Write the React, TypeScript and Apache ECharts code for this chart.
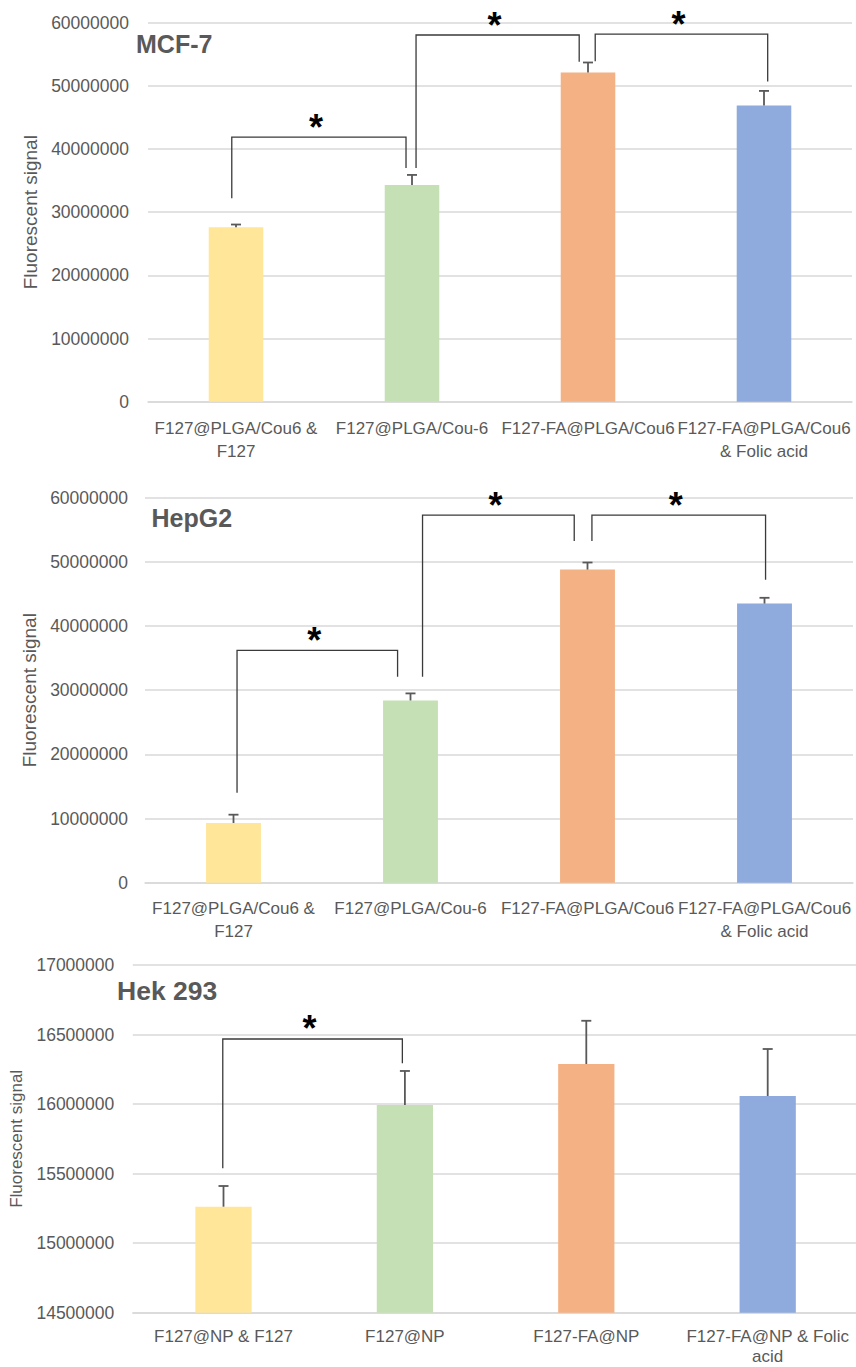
import React, { useEffect, useRef } from "react";
import * as echarts from "echarts";

const FONT = "'Liberation Sans', Arial, sans-serif";
const TEXT = "#595959";
const GRID_LINE = "#d9d9d9";
const ERR_COLOR = "#595959";
const BRACKET_COLOR = "#3a3a3a";
const BAR_COLORS = ["#FFE699", "#C5E0B4", "#F4B183", "#8FAADC"];

// ---------- MCF-7 ----------
const mcfTitle = "MCF-7";
const mcfCategories = [
  "F127@PLGA/Cou6 &\nF127",
  "F127@PLGA/Cou-6",
  "F127-FA@PLGA/Cou6",
  "F127-FA@PLGA/Cou6\n& Folic acid",
];
const mcfValues = [27600000, 34300000, 52100000, 46900000];
const mcfErrors = [450000, 1600000, 1600000, 2300000];
// [leftCat, leftShift(cat units), rightCat, rightShift, topValue, leftBottomValue, rightBottomValue]
const mcfBrackets = [
  [0, -0.024, 1, -0.034, 41900000, 32200000, 37000000],
  [1, 0.023, 2, -0.05, 58050000, 37000000, 53800000],
  [2, 0.041, 3, 0.021, 58200000, 53900000, 50700000],
];
const mcfTicks = { min: 0, max: 60000000, interval: 10000000 };

// ---------- HepG2 ----------
const hepTitle = "HepG2";
const hepCategories = mcfCategories;
const hepValues = [9300000, 28400000, 48800000, 43500000];
const hepErrors = [1300000, 1100000, 1100000, 900000];
const hepBrackets = [
  [0, 0.02, 1, -0.073, 36200000, 14000000, 32100000],
  [1, 0.068, 2, -0.075, 57300000, 32100000, 53250000],
  [2, 0.025, 3, 0.006, 57300000, 53250000, 47200000],
];
const hepTicks = { min: 0, max: 60000000, interval: 10000000 };

// ---------- Hek 293 ----------
const hekTitle = "Hek 293";
const hekCategories = [
  "F127@NP & F127",
  "F127@NP",
  "F127-FA@NP",
  "F127-FA@NP & Folic\nacid",
];
const hekValues = [15262000, 15993000, 16288000, 16058000];
const hekErrors = [149000, 245000, 311000, 338000];
const hekBrackets = [[0, -0.004, 1, -0.014, 16468000, 15538000, 16293000]];
const hekTicks = { min: 14500000, max: 17000000, interval: 500000 };

const yName = "Fluorescent signal";

const panels = [
  {
    title: mcfTitle, categories: mcfCategories, values: mcfValues, errors: mcfErrors,
    brackets: mcfBrackets, ticks: mcfTicks,
    grid: { left: 148, top: 22.7, width: 704, height: 379 },
    titlePos: { left: 136, top: 31, size: 25 },
    labelMargin: 15, lineHeight: 23, yLabelMargin: 19, nameGap: 103, nameSize: 19,
  },
  {
    title: hepTitle, categories: hepCategories, values: hepValues, errors: hepErrors,
    brackets: hepBrackets, ticks: hepTicks,
    grid: { left: 145, top: 497.7, width: 708, height: 385 },
    titlePos: { left: 151.5, top: 505.5, size: 25 },
    labelMargin: 14, lineHeight: 23.5, yLabelMargin: 17, nameGap: 105, nameSize: 19,
  },
  {
    title: hekTitle, categories: hekCategories, values: hekValues, errors: hekErrors,
    brackets: hekBrackets, ticks: hekTicks,
    grid: { left: 132.8, top: 965, width: 725.6, height: 347.7 },
    titlePos: { left: 117, top: 977.5, size: 26.5 },
    labelMargin: 14, lineHeight: 20, yLabelMargin: 18.5, nameGap: 108, nameSize: 17,
  },
];

function errorRender(params: any, api: any) {
  const x = api.value(0);
  const base = api.coord([x, api.value(1)]);
  const top = api.coord([x, api.value(2)]);
  const cap = 5;
  const style = { stroke: ERR_COLOR, lineWidth: 1.8 };
  return {
    type: "group",
    children: [
      { type: "line", shape: { x1: base[0], y1: base[1], x2: top[0], y2: top[1] }, style },
      { type: "line", shape: { x1: top[0] - cap, y1: top[1], x2: top[0] + cap, y2: top[1] }, style },
    ],
  };
}

function bracketRender(brackets: number[][]) {
  return (params: any, api: any) => {
    const b = brackets[params.dataIndex];
    const bw = api.size([1, 0])[0];
    const pTop = api.coord([b[0], b[4]]);
    const xl = pTop[0] + b[1] * bw;
    const xr = api.coord([b[2], b[4]])[0] + b[3] * bw;
    const yt = pTop[1];
    const yl = api.coord([b[0], b[5]])[1];
    const yr = api.coord([b[2], b[6]])[1];
    return {
      type: "group",
      children: [
        {
          type: "polyline",
          shape: { points: [[xl, yl], [xl, yt], [xr, yt], [xr, yr]] },
          style: { stroke: BRACKET_COLOR, lineWidth: 1.3, fill: "none" },
        },
        {
          type: "text",
          x: (xl + xr) / 2 - 3,
          y: yt - 10,
          style: {
            text: "*",
            fontSize: 36,
            fontWeight: "bold",
            fontFamily: FONT,
            fill: "#000",
            align: "center",
            verticalAlign: "middle",
          },
        },
      ],
    };
  };
}

export default function App() {
  const ref = useRef<HTMLDivElement>(null);

  useEffect(() => {
    if (!ref.current) return;
    const chart = echarts.init(ref.current, undefined, { renderer: "svg" });

    const option: any = {
      animation: false,
      backgroundColor: "#ffffff",
      title: panels.map((p) => ({
        text: p.title,
        left: p.titlePos.left,
        top: p.titlePos.top,
        padding: 0,
        textStyle: { fontSize: p.titlePos.size, fontWeight: "bold", color: TEXT, fontFamily: FONT },
      })),
      grid: panels.map((p) => ({ ...p.grid, containLabel: false, outerBoundsMode: "none" })),
      xAxis: panels.map((p, i) => ({
        type: "category",
        gridIndex: i,
        data: p.categories,
        axisTick: { show: false },
        axisLine: { show: true, lineStyle: { color: GRID_LINE, width: 1.5 } },
        axisLabel: {
          interval: 0,
          color: TEXT,
          fontSize: 17,
          lineHeight: p.lineHeight,
          fontFamily: FONT,
          margin: p.labelMargin,
        },
      })),
      yAxis: panels.map((p, i) => ({
        type: "value",
        gridIndex: i,
        min: p.ticks.min,
        max: p.ticks.max,
        interval: p.ticks.interval,
        name: yName,
        nameLocation: "middle",
        nameGap: p.nameGap,
        nameTextStyle: { color: TEXT, fontSize: p.nameSize, fontFamily: FONT },
        axisLine: { show: false },
        axisTick: { show: false },
        splitLine: { show: true, lineStyle: { color: GRID_LINE, width: 1.5 } },
        axisLabel: {
          color: TEXT,
          fontSize: 17.5,
          fontFamily: FONT,
          margin: p.yLabelMargin,
          formatter: (v: number) => String(v),
        },
      })),
      series: panels.flatMap((p, i) => [
        {
          type: "bar",
          xAxisIndex: i,
          yAxisIndex: i,
          barWidth: "31%",
          data: p.values.map((v, k) => ({ value: v, itemStyle: { color: BAR_COLORS[k] } })),
        },
        {
          type: "custom",
          xAxisIndex: i,
          yAxisIndex: i,
          clip: false,
          z: 5,
          renderItem: errorRender,
          encode: { x: 0, y: [1, 2] },
          data: p.values.map((v, k) => [k, v, v + p.errors[k]]),
        },
        {
          type: "custom",
          xAxisIndex: i,
          yAxisIndex: i,
          clip: false,
          z: 6,
          renderItem: bracketRender(p.brackets),
          encode: { x: 0, y: 1 },
          data: p.brackets.map((b) => [b[0], b[4]]),
        },
      ]),
    };

    chart.setOption(option);
    return () => chart.dispose();
  }, []);

  return (
    <div
      ref={ref}
      style={{ position: "absolute", left: 0, top: 0, width: 856, height: 1367, background: "#fff" }}
    />
  );
}
